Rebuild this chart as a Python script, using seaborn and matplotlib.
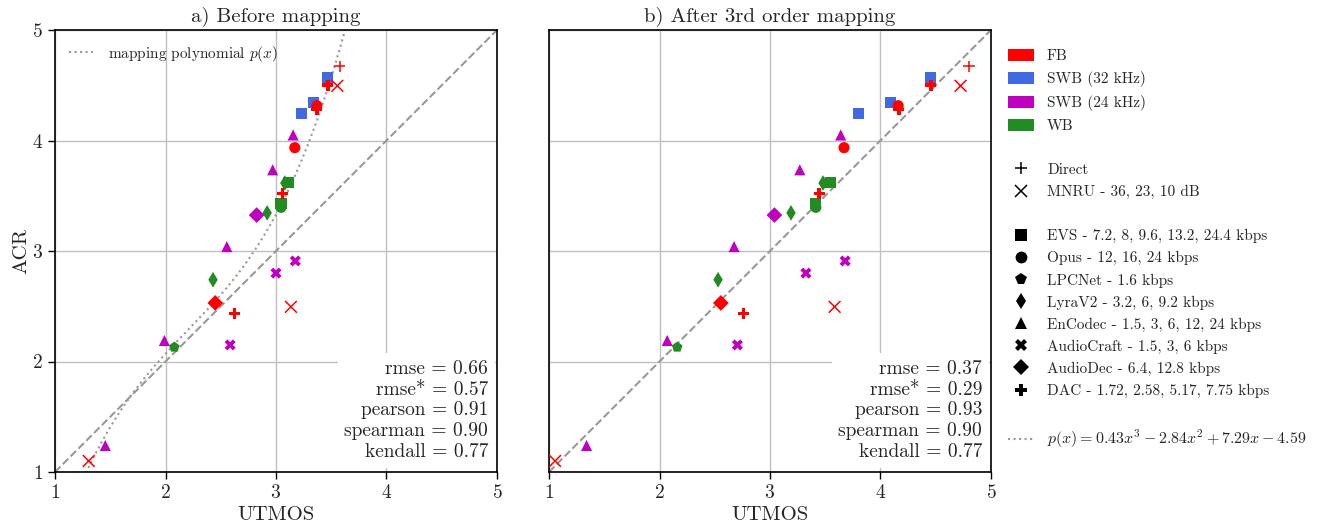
import numpy as np
import pandas as pd
import matplotlib
matplotlib.use("Agg")
import matplotlib.pyplot as plt
import seaborn as sns
from matplotlib.patches import Patch
from matplotlib.lines import Line2D

# ---------------- data ----------------
codec = ["EVS", "EVS", "EVS", "EVS", "EVS",
         "Opus", "Opus", "Opus",
         "LPCNet",
         "LyraV2", "LyraV2", "LyraV2",
         "EnCodec", "EnCodec", "EnCodec", "EnCodec", "EnCodec",
         "AudioCraft", "AudioCraft", "AudioCraft",
         "AudioDec", "AudioDec",
         "DAC", "DAC", "DAC", "DAC",
         "Direct",
         "MNRU", "MNRU", "MNRU"]
band = ["SWB (32 kHz)", "SWB (32 kHz)", "SWB (32 kHz)", "WB", "WB",
        "FB", "FB", "WB",
        "WB",
        "WB", "WB", "WB",
        "SWB (24 kHz)", "SWB (24 kHz)", "SWB (24 kHz)", "SWB (24 kHz)", "SWB (24 kHz)",
        "SWB (24 kHz)", "SWB (24 kHz)", "SWB (24 kHz)",
        "SWB (24 kHz)", "FB",
        "FB", "FB", "FB", "FB",
        "FB",
        "FB", "FB", "FB"]
utmos = [3.47, 3.34, 3.23, 3.11, 3.045,
         3.37, 3.17, 3.045,
         2.08,
         3.08, 2.92, 2.43,
         3.155, 2.97, 2.555, 1.99, 1.455,
         3.175, 3.00, 2.585,
         2.825, 2.45,
         3.47, 3.37, 3.06, 2.625,
         3.575,
         3.555, 3.135, 1.305]
utmos_mapped = [4.455, 4.09, 3.80, 3.55, 3.415,
                4.16, 3.67, 3.415,
                2.16,
                3.48, 3.19, 2.53,
                3.64, 3.27, 2.675, 2.07, 1.34,
                3.68, 3.325, 2.705,
                3.04, 2.555,
                4.455, 4.165, 3.445, 2.76,
                4.80,
                4.725, 3.585, 1.055]
acr = [4.57, 4.34, 4.245, 3.62, 3.43,
       4.315, 3.935, 3.395,
       2.13,
       3.615, 3.345, 2.74,
       4.05, 3.735, 3.04, 2.19, 1.24,
       2.91, 2.80, 2.15,
       3.325, 2.53,
       4.50, 4.28, 3.52, 2.435,
       4.67,
       4.495, 2.495, 1.10]

band_names = ["FB", "SWB (32 kHz)", "SWB (24 kHz)", "WB"]
band_colors = ["#ff0000", "#4169e1", "#bf00bf", "#228b22"]

codec_names = ["Direct", "MNRU", "EVS", "Opus", "LPCNet", "LyraV2",
               "EnCodec", "AudioCraft", "AudioDec", "DAC"]
codec_labels = ["Direct", "MNRU - 36, 23, 10 dB",
                "EVS - 7.2, 8, 9.6, 13.2, 24.4 kbps",
                "Opus - 12, 16, 24 kbps",
                "LPCNet - 1.6 kbps",
                "LyraV2 - 3.2, 6, 9.2 kbps",
                "EnCodec - 1.5, 3, 6, 12, 24 kbps",
                "AudioCraft - 1.5, 3, 6 kbps",
                "AudioDec - 6.4, 12.8 kbps",
                "DAC - 1.72, 2.58, 5.17, 7.75 kbps"]
codec_markers = ["+", "x", "s", "o", "p", "d", "^", "X", "D", "P"]
line_codecs = ["Direct", "MNRU"]

poly_coef = [0.43, -2.84, 7.29, -4.59]
poly_label = r"$p(x) = 0.43x^3 - 2.84x^2 + 7.29x - 4.59$"

stat_names = ["rmse", "rmse*", "pearson", "spearman", "kendall"]
stats_before = [0.66, 0.57, 0.91, 0.90, 0.77]
stats_after = [0.37, 0.29, 0.93, 0.90, 0.77]

titles = ["a) Before mapping", "b) After 3rd order mapping"]

# ---------------- style ----------------
sns.set_theme(style="ticks")
plt.rcParams["font.family"] = "cmr10"
plt.rcParams["mathtext.fontset"] = "cm"
plt.rcParams["axes.formatter.use_mathtext"] = True
plt.rcParams["axes.unicode_minus"] = False

df = pd.DataFrame({"codec": codec, "band": band, "utmos": utmos,
                   "mapped": utmos_mapped, "acr": acr})
palette = dict(zip(band_names, band_colors))
marker_map = dict(zip(codec_names, codec_markers))
filled = df[~df["codec"].isin(line_codecs)]
lineart = df[df["codec"].isin(line_codecs)]

W, H = 1317, 528
fig = plt.figure(figsize=(W / 100, H / 100), dpi=100)
ax1 = fig.add_axes([55 / W, 56 / H, 442 / W, 442 / H])
ax2 = fig.add_axes([549 / W, 56 / H, 442 / W, 442 / H])

for i, (ax, xcol, stats) in enumerate([(ax1, "utmos", stats_before),
                                      (ax2, "mapped", stats_after)]):
    ax.set_xlim(1, 5)
    ax.set_ylim(1, 5)
    ax.set_xticks([1, 2, 3, 4, 5])
    ax.set_yticks([1, 2, 3, 4, 5])
    ax.grid(True, color="#c0c0c0", linewidth=1.0, zorder=0)
    ax.set_axisbelow(True)
    ax.axline((1, 1), slope=1, color="#999999", linestyle="--", linewidth=1.5, zorder=2)
    if i == 0:
        xs = np.linspace(1, 5, 400)
        ax.plot(xs, np.polyval(poly_coef, xs), color="#999999", linestyle=":",
                linewidth=1.5, zorder=2, label=r"mapping polynomial $p(x)$")
        ax.legend(loc="upper left", frameon=False, fontsize=11,
                  handlelength=1.6, handletextpad=1.0)
    sns.scatterplot(data=filled, x=xcol, y="acr", hue="band", style="codec",
                    palette=palette,
                    markers={c: marker_map[c] for c in filled["codec"].unique()},
                    s=64, linewidth=0, legend=False, ax=ax, zorder=4)
    sns.scatterplot(data=lineart, x=xcol, y="acr", hue="band", style="codec",
                    palette=palette,
                    markers={c: marker_map[c] for c in lineart["codec"].unique()},
                    s=72, linewidth=1.1, legend=False, ax=ax, zorder=4)
    txt = "\n".join(f"{n} = {v:.2f}" for n, v in zip(stat_names, stats))
    ax.text(0.98, 0.025, txt, transform=ax.transAxes, ha="right", va="bottom",
            multialignment="right", fontsize=14, zorder=3,
            bbox=dict(boxstyle="square,pad=0.35", facecolor="white", edgecolor="none"))
    ax.set_title(titles[i], fontsize=15, pad=6)
    ax.set_xlabel("UTMOS", fontsize=15, labelpad=3)
    ax.tick_params(labelsize=14, length=5, width=1.0, color="black")
    for sp in ax.spines.values():
        sp.set_color("black")
        sp.set_linewidth(1.2)
    if i == 0:
        ax.set_ylabel("ACR", fontsize=15, labelpad=1)
    else:
        ax.set_ylabel("")
        ax.tick_params(axis="y", left=False, labelleft=False)

# ---------------- figure legend ----------------
handles, labels = [], []
blank = Line2D([], [], linestyle="None", marker=None)
for n, c in zip(band_names, band_colors):
    handles.append(Patch(facecolor=c, edgecolor="none"))
    labels.append(n)
handles.append(blank); labels.append(" ")
for n, lab, m in zip(codec_names, codec_labels, codec_markers):
    if n in line_codecs:
        handles.append(Line2D([], [], linestyle="None", marker=m, color="black",
                              markersize=9, markeredgewidth=1.1))
        labels.append(lab)
handles.append(blank); labels.append(" ")
for n, lab, m in zip(codec_names, codec_labels, codec_markers):
    if n not in line_codecs:
        handles.append(Line2D([], [], linestyle="None", marker=m, color="black",
                              markersize=8.5, markeredgewidth=0))
        labels.append(lab)
handles.append(blank); labels.append(" ")
handles.append(Line2D([], [], color="#999999", linestyle=":", linewidth=1.5))
labels.append(poly_label)

leg = fig.legend(handles, labels, loc="upper left", bbox_to_anchor=(1002 / W, 1 - 43 / H),
                 frameon=False, fontsize=11, handlelength=1.7, handleheight=0.8,
                 handletextpad=0.85, labelspacing=0.515, borderaxespad=0.0)
leg.get_texts()[-1].set_fontsize(11.5)

fig.savefig("out.png", dpi=100)
